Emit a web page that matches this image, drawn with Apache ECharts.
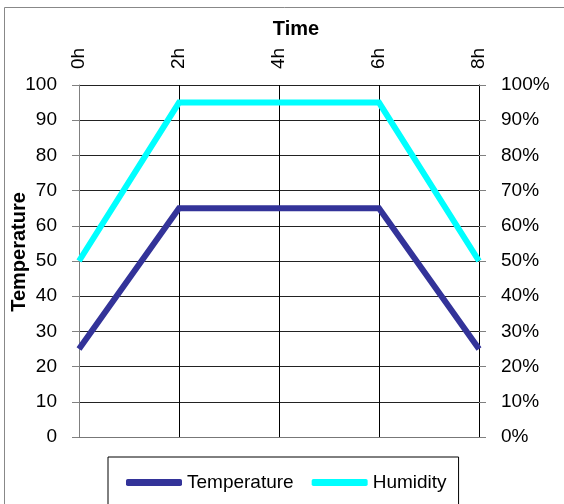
<!DOCTYPE html>
<html><head><meta charset="utf-8">
<script src="https://cdn.jsdelivr.net/npm/echarts@6/dist/echarts.min.js"></script>
<style>html,body{margin:0;padding:0;background:#fff}#c{width:564px;height:504px}</style>
</head><body><div id="c"></div>
<script>
var categories = ['0h', '2h', '4h', '6h', '8h'];
var temperature = [25, 65, 65, 65, 25];
var humidity = [50, 95, 95, 95, 50];
var leftTicks = { min: 0, max: 100, interval: 10 };
var rightTicks = { min: 0, max: 100, interval: 10 };

var FONT = 'Liberation Sans, Arial, sans-serif';
var chart = echarts.init(document.getElementById('c'), null, { renderer: 'canvas' });
chart.setOption({
  animation: false,
  backgroundColor: '#fff',
  graphic: [{
    type: 'rect', shape: { x: 4.5, y: 7.5, width: 700, height: 700 },
    style: { fill: null, stroke: '#888', lineWidth: 1 }, silent: true, z: -1
  }],
  title: {
    text: 'Time', left: 291, top: 14, textAlign: 'center',
    textStyle: { fontFamily: FONT, fontSize: 20, fontWeight: 'bold', color: '#000' }
  },
  grid: { left: 79, right: 85, top: 85, bottom: 67, outerBoundsMode: 'none', containLabel: false },
  legend: {
    left: 108, top: 457, orient: 'horizontal',
    padding: [16, 12, 30, 18], itemGap: 18,
    borderColor: '#000', borderWidth: 1,
    itemWidth: 56, itemHeight: 7, icon: 'roundRect',
    textStyle: { fontFamily: FONT, fontSize: 19, color: '#000' },
    data: ['Temperature', 'Humidity']
  },
  xAxis: {
    type: 'category', position: 'top', boundaryGap: false, data: categories,
    axisLine: { show: true, lineStyle: { color: '#777', width: 1 } },
    axisTick: { show: false },
    axisLabel: { rotate: 90, margin: 16, fontFamily: FONT, fontSize: 19, color: '#000' },
    splitLine: { show: true, lineStyle: { color: '#000', width: 1 } }
  },
  yAxis: [{
    type: 'value', min: leftTicks.min, max: leftTicks.max, interval: leftTicks.interval,
    name: 'Temperature', nameLocation: 'middle', nameGap: 50, nameMoveOverlap: false,
    nameTextStyle: { fontFamily: FONT, fontSize: 20, fontWeight: 'bold', color: '#000', padding: [0, 0, 0, 18] },
    axisLine: { show: true, lineStyle: { color: '#808080', width: 1 } },
    axisTick: { show: true, length: 7, lineStyle: { color: '#808080' } },
    axisLabel: { margin: 22, fontFamily: FONT, fontSize: 19, color: '#000' },
    splitLine: { show: true, lineStyle: { color: '#222', width: 1 } }
  }, {
    type: 'value', min: rightTicks.min, max: rightTicks.max, interval: rightTicks.interval,
    position: 'right',
    axisLine: { show: true, lineStyle: { color: '#000', width: 1 } },
    axisTick: { show: true, length: 7, lineStyle: { color: '#808080' } },
    axisLabel: { margin: 22, fontFamily: FONT, fontSize: 19, color: '#000', formatter: '{value}%' },
    splitLine: { show: false }
  }],
  series: [{
    name: 'Temperature', type: 'line', data: temperature, yAxisIndex: 0,
    symbol: 'none', itemStyle: { color: '#333399' },
    lineStyle: { color: '#333399', width: 6, join: 'miter', cap: 'butt' }
  }, {
    name: 'Humidity', type: 'line', data: humidity, yAxisIndex: 1,
    symbol: 'none', itemStyle: { color: '#00FFFF' },
    lineStyle: { color: '#00FFFF', width: 6, join: 'miter', cap: 'butt' }
  }]
});
</script></body></html>
